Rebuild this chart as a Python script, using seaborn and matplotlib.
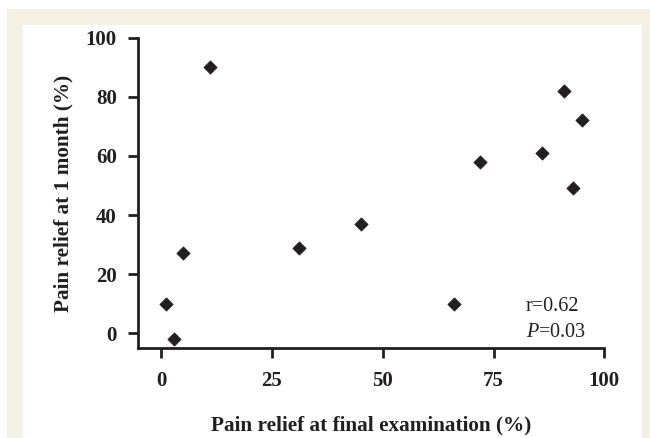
import matplotlib
matplotlib.use("Agg")
import matplotlib.pyplot as plt
import pandas as pd
import seaborn as sns
from matplotlib.patches import Rectangle

# values
final_exam = [1, 3, 5, 11, 31, 45, 66, 72, 86, 91, 93, 95]
one_month = [10, -2, 27, 90, 29, 37, 10, 58, 61, 82, 49, 72]
x_ticks = [0, 25, 50, 75, 100]
y_ticks = [0, 20, 40, 60, 80, 100]

df = pd.DataFrame({"final": final_exam, "month": one_month})

ink = "#231f20"

sns.set_style("ticks")
plt.rcParams["font.family"] = ["Liberation Serif", "DejaVu Serif"]
plt.rcParams["mathtext.fontset"] = "custom"
plt.rcParams["mathtext.rm"] = "Liberation Serif"
plt.rcParams["mathtext.it"] = "Liberation Serif:italic"

W, H = 650, 438
fig = plt.figure(figsize=(6.5, 4.38), dpi=100)
fig.patch.set_facecolor("white")
# beige frame with the white panel inside it
fig.patches.append(Rectangle((7 / W, 0), (W - 7) / W, (H - 9) / H,
                             transform=fig.transFigure, facecolor="#f4f0e3",
                             edgecolor="none", zorder=-6))
fig.patches.append(Rectangle((23 / W, 0), (642 - 23) / W, (H - 25) / H,
                             transform=fig.transFigure, facecolor="white",
                             edgecolor="none", zorder=-5))

ax = fig.add_axes([137.7 / W, (H - 348.3) / H, 466.6 / W, 310.6 / H])
ax.set_facecolor("none")
ax.set_zorder(2)

sns.scatterplot(data=df, x="final", y="month", marker="D", s=46,
                color=ink, edgecolor=ink, linewidth=0.5,
                ax=ax, zorder=3, clip_on=False)

ax.set_xlim(-5.3, 100)
ax.set_ylim(-5.1, 100)
ax.set_xticks(x_ticks)
ax.set_yticks(y_ticks)
ax.set_xticklabels([str(v) for v in x_ticks], fontsize=15, fontweight="bold")
ax.set_yticklabels([str(v) for v in y_ticks], fontsize=15, fontweight="bold")

for side in ["top", "right"]:
    ax.spines[side].set_visible(False)
for side in ["left", "bottom"]:
    ax.spines[side].set_linewidth(2)
    ax.spines[side].set_color(ink)
ax.tick_params(axis="both", direction="out", length=7, width=2,
               color=ink, labelcolor=ink)
ax.tick_params(axis="x", pad=9)
ax.tick_params(axis="y", pad=8)

ax.set_xlabel("Pain relief at final examination (%)", fontsize=15.3,
              fontweight="bold", labelpad=18, color=ink)
ax.set_ylabel("Pain relief at 1 month (%)", fontsize=15.3,
              fontweight="bold", labelpad=9, color=ink)

ax.text(82.3, 7.6, "r=0.62", fontsize=14.5, color=ink, va="baseline")
ax.text(82.3, -1.2, r"$\it{P}$=0.03", fontsize=14.5, color=ink,
        va="baseline")

fig.savefig("out.png", dpi=100, facecolor=fig.get_facecolor())
